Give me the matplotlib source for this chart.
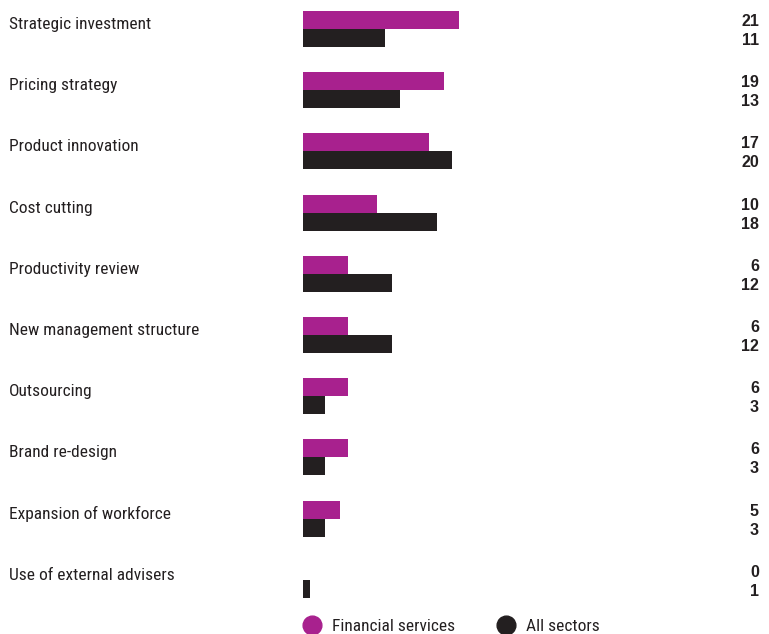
import matplotlib
matplotlib.use("Agg")
import matplotlib.pyplot as plt
import matplotlib.transforms as mtransforms
import numpy as np

categories = [
    "Strategic investment",
    "Pricing strategy",
    "Product innovation",
    "Cost cutting",
    "Productivity review",
    "New management structure",
    "Outsourcing",
    "Brand re-design",
    "Expansion of workforce",
    "Use of external advisers",
]
financial = [21, 19, 17, 10, 6, 6, 6, 6, 5, 0]
all_sectors = [11, 13, 20, 18, 12, 12, 3, 3, 3, 1]
series_names = ["Financial services", "All sectors"]

MAGENTA = "#A8218E"
DARK = "#231F20"
W, H = 769, 634

LABEL_FONT = ["Roboto Condensed", "Archivo Narrow", "Sofia Sans Semi Condensed",
              "Liberation Sans", "DejaVu Sans"]
VALUE_FONT = ["Liberation Sans", "DejaVu Sans"]
plt.rcParams["font.family"] = LABEL_FONT

fig = plt.figure(figsize=(W / 100, H / 100), dpi=100)
# axes runs from the bar baseline to the right-hand value column
x0, x1 = 303, 759
ax = fig.add_axes([x0 / W, 0, (x1 - x0) / W, 1])
px_per_unit = 7.43
ax.set_xlim(0, (x1 - x0) / px_per_unit)
step = 61.2
ax.set_ylim((H - 29) / step, -29 / step)
ax.axis("off")

y = np.arange(len(categories))
bh = 18 / step
ax.barh(y - bh / 2, financial, height=bh, color=MAGENTA, linewidth=0)
ax.barh(y + bh / 2, all_sectors, height=bh, color=DARK, linewidth=0)

# category names on the left, baseline level with the split between the bars
lab_tr = mtransforms.blended_transform_factory(fig.transFigure, ax.transData)
for yi, name in zip(y, categories):
    ax.text(9 / W, yi, name, transform=lab_tr, ha="left", va="baseline",
            fontsize=12.5, color=DARK)

# values right-aligned at the edge
val_tr = mtransforms.blended_transform_factory(ax.transAxes, ax.transData)
for yi, f, a in zip(y, financial, all_sectors):
    ax.text(1, yi - 0.05, str(f), transform=val_tr, ha="right", va="baseline",
            fontsize=11.5, fontweight="bold", color=DARK, family=VALUE_FONT)
    ax.text(1, yi + 0.26, str(a), transform=val_tr, ha="right", va="baseline",
            fontsize=11.5, fontweight="bold", color=DARK, family=VALUE_FONT)

# legend
ly = 1 - 625 / H
tb = 1 - 631 / H
for cx, col, name in [(312, MAGENTA, series_names[0]), (506, DARK, series_names[1])]:
    fig.add_artist(plt.Line2D([cx / W], [ly], marker="o", markersize=13.5,
                              color=col, linestyle="none", transform=fig.transFigure))
    fig.text((cx + 20) / W, tb, name, ha="left", va="baseline", fontsize=12.5, color=DARK)

fig.savefig("out.png", dpi=100)
